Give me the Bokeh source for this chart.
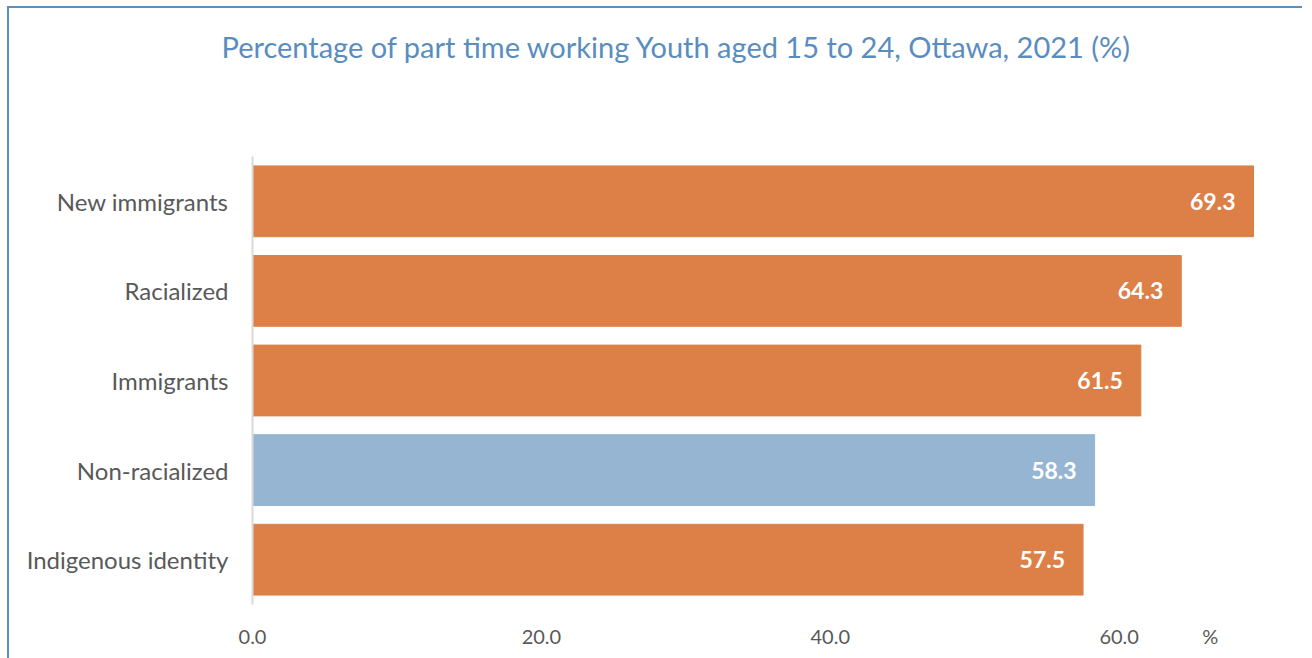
from bokeh.plotting import figure
from bokeh.models import ColumnDataSource, FactorRange, Range1d, FixedTicker, LabelSet, Title
from bokeh.core.properties import value
from bokeh.embed import file_html
from bokeh.resources import INLINE

categories = ["Indigenous identity", "Non-racialized", "Immigrants", "Racialized", "New immigrants"]
values = [57.5, 58.3, 61.5, 64.3, 69.3]
colors = ["#DD8048", "#95B5D3", "#DD8048", "#DD8048", "#DD8048"]
value_labels = ["57.5", "58.3", "61.5", "64.3", "69.3"]
x_ticks = [0, 20, 40, 60, 66.3]
x_tick_labels = {0: "0.0", 20: "20.0", 40: "40.0", 60: "60.0", 66.3: "%"}
title_text = "Percentage of part time working Youth aged 15 to 24, Ottawa, 2021 (%)"

FONT = "Lato"

src = ColumnDataSource(dict(cat=categories, val=values, color=colors, lab=value_labels))

p = figure(frame_width=1040, frame_height=448,
           y_range=FactorRange(*categories, range_padding=0),
           x_range=Range1d(0, 72.0), output_backend="svg", toolbar_location=None,
           min_border_left=243, min_border_right=10, min_border_top=148, min_border_bottom=54)
p.margin = (6, 0, 0, 7)
p.styles = {"border-top": "2px solid #5B8FC4", "border-left": "2px solid #5B8FC4"}

p.hbar(y="cat", right="val", left=0, height=0.79, color="color", source=src)

labels = LabelSet(x="val", y="cat", text="lab", source=src, x_offset=-18,
                  text_align="right", text_baseline="middle", text_color="white",
                  text_font=value(FONT), text_font_style="bold", text_font_size="23px")
p.add_layout(labels)

spacer = Title(text=" ", text_font_size="1px", standoff=90)
p.add_layout(spacer, "above")
title = Title(text=title_text, align="left", text_font=FONT, text_font_size="29px",
              text_font_style="normal", text_color="#5A8DBF", standoff=0, offset=-31)
p.add_layout(title, "above")
p.title.visible = False

p.xgrid.visible = False
p.ygrid.visible = False
p.outline_line_color = None

xa = p.xaxis[0]
xa.ticker = FixedTicker(ticks=x_ticks)
xa.major_label_overrides = x_tick_labels
xa.axis_line_color = None
xa.major_tick_line_color = None
xa.minor_tick_line_color = None
xa.major_label_standoff = 13
xa.major_label_text_font = FONT
xa.major_label_text_font_size = "20px"
xa.major_label_text_color = "#595959"

ya = p.yaxis[0]
ya.axis_line_color = "#D9D9D9"
ya.axis_line_width = 2
ya.major_tick_line_color = None
ya.minor_tick_line_color = None
ya.major_label_standoff = 18
ya.major_label_text_font = FONT
ya.major_label_text_font_size = "24px"
ya.major_label_text_color = "#595959"

open("out.html", "w").write(file_html(p, INLINE))
